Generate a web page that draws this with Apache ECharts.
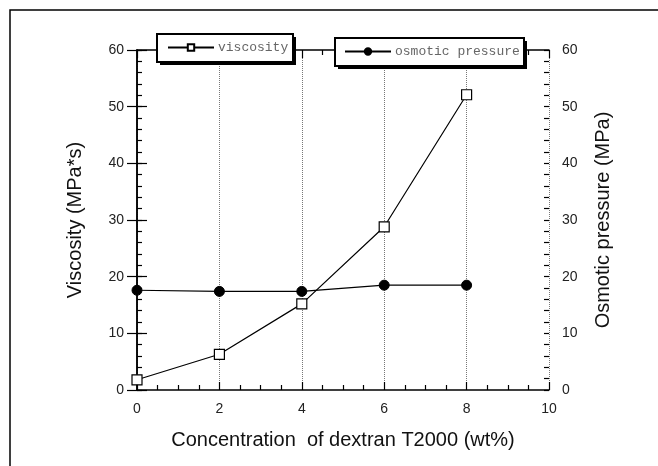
<!DOCTYPE html>
<html>
<head>
<meta charset="utf-8">
<script src="https://cdn.jsdelivr.net/npm/echarts@6/dist/echarts.min.js"></script>
<style>
  html, body { margin: 0; padding: 0; background: #fff; }
  #chart { width: 658px; height: 466px; }
</style>
</head>
<body>
<div id="chart"></div>
<script>
// dextran T2000 concentration (wt%)
const concentration = [0, 2, 4, 6, 8];
// viscosity (MPa*s), left axis
const viscosity = [1.8, 6.3, 15.2, 28.8, 52.1];
// osmotic pressure (MPa), right axis
const osmoticPressure = [17.6, 17.4, 17.4, 18.5, 18.5];

const pairs = (xs, ys) => xs.map((x, i) => [x, ys[i]]);

const chart = echarts.init(document.getElementById('chart'));

const axisFont = { fontFamily: 'Liberation Sans', fontSize: 14, color: '#222' };
const nameFont = { fontFamily: 'Liberation Sans', fontSize: 20, color: '#111' };
const legendFont = { fontFamily: 'Liberation Mono', fontSize: 13, color: '#666' };
const black = { color: '#000', width: 1.2 };

const yAxisBase = {
  type: 'value',
  min: 0,
  max: 60,
  interval: 10,
  nameLocation: 'middle',
  nameTextStyle: nameFont,
  axisLine: { show: true, lineStyle: { color: '#000', width: 1.5 } },
  axisTick: { show: true, inside: true, length: 10, lineStyle: black },
  axisLabel: { ...axisFont, margin: 13 },
  splitLine: { show: false }
};

// overlay axis only for the short inward ticks every 2 units
const yMinorBase = {
  type: 'value',
  min: 0,
  max: 60,
  interval: 2,
  axisLine: { show: false },
  axisTick: { show: true, inside: true, length: 5, lineStyle: black },
  axisLabel: { show: false },
  splitLine: { show: false }
};

// legend frames with a hard drop shadow
const legendBox = (x, y, w, h) => [
  { type: 'rect', z: 10, shape: { x: x + 3, y: y + 3, width: w, height: h }, style: { fill: '#000' }, silent: true },
  { type: 'rect', z: 11, shape: { x: x, y: y, width: w, height: h }, style: { fill: '#fff', stroke: '#000', lineWidth: 2 }, silent: true }
];

const legendBase = {
  orient: 'horizontal',
  itemWidth: 46,
  itemHeight: 8,
  padding: 0,
  z: 20,
  textStyle: { ...legendFont, padding: [0, 0, 0, -1] }
};

const option = {
  animation: false,
  backgroundColor: '#fff',
  graphic: [
    {
      type: 'rect',
      z: 0,
      shape: { x: 10, y: 10, width: 700, height: 500 },
      style: { fill: 'none', stroke: '#000', lineWidth: 1.5 },
      silent: true
    },
    ...legendBox(157, 34, 136, 28),
    ...legendBox(335, 38, 189, 28)
  ],
  grid: { left: 137, right: 109, top: 50, bottom: 76 },
  legend: [
    { ...legendBase, data: ['viscosity'], left: 167, top: 41 },
    { ...legendBase, data: ['osmotic pressure'], left: 344, top: 45 }
  ],
  xAxis: [
    {
      type: 'value',
      position: 'bottom',
      min: 0,
      max: 10,
      interval: 2,
      name: 'Concentration  of dextran T2000 (wt%)',
      nameLocation: 'middle',
      nameGap: 40,
      nameTextStyle: nameFont,
      axisLine: { show: true, onZero: false, lineStyle: { color: '#000', width: 1.5 } },
      axisTick: { show: true, inside: true, length: 8, lineStyle: black },
      minorTick: { show: true, splitNumber: 4, length: 5, lineStyle: black },
      axisLabel: { ...axisFont, margin: 12 },
      splitLine: { show: true, lineStyle: { color: '#777', width: 1, type: 'dotted' } }
    },
    {
      type: 'value',
      position: 'top',
      min: 0,
      max: 10,
      interval: 2,
      axisLine: { show: true, onZero: false, lineStyle: { color: '#000', width: 1.5 } },
      axisTick: { show: true, inside: true, length: 8, lineStyle: black },
      minorTick: { show: true, splitNumber: 4, length: 5, lineStyle: black },
      axisLabel: { show: false },
      splitLine: { show: false }
    }
  ],
  yAxis: [
    { ...yAxisBase, position: 'left', name: 'Viscosity (MPa*s)', nameGap: 52 },
    { ...yAxisBase, position: 'right', name: 'Osmotic pressure (MPa)', nameGap: 44 },
    { ...yMinorBase, position: 'left' },
    { ...yMinorBase, position: 'right' }
  ],
  series: [
    {
      name: 'viscosity',
      type: 'line',
      xAxisIndex: 0,
      yAxisIndex: 0,
      data: pairs(concentration, viscosity),
      symbol: 'rect',
      symbolSize: 10,
      itemStyle: { color: '#fff', borderColor: '#000', borderWidth: 1.2 },
      lineStyle: { color: '#000', width: 1.2 },
      z: 3
    },
    {
      name: 'osmotic pressure',
      type: 'line',
      xAxisIndex: 0,
      yAxisIndex: 1,
      data: pairs(concentration, osmoticPressure),
      symbol: 'circle',
      symbolSize: 10,
      itemStyle: { color: '#000', borderColor: '#000', borderWidth: 1 },
      lineStyle: { color: '#000', width: 1.2 },
      z: 2
    }
  ]
};

chart.setOption(option);
</script>
</body>
</html>
